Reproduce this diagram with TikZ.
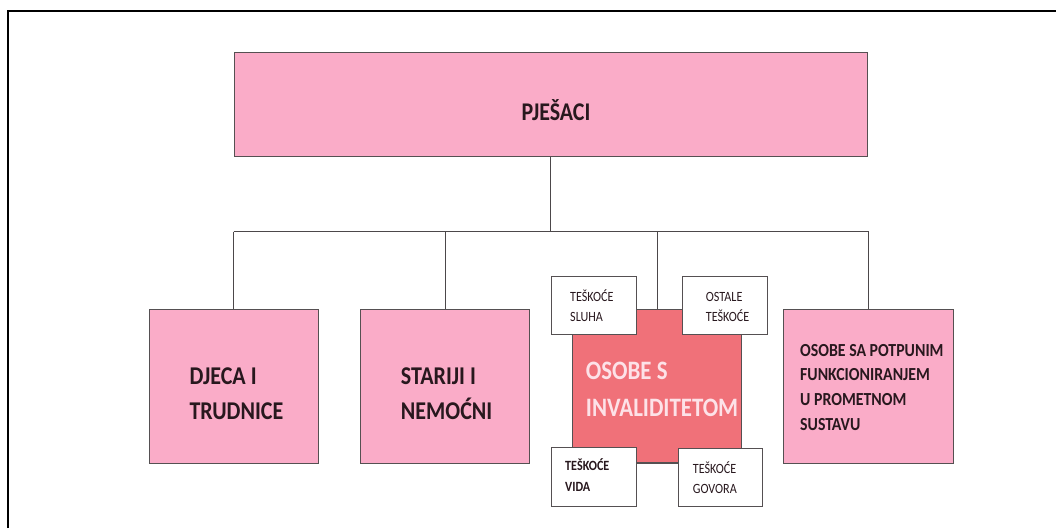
\documentclass[tikz,border=0pt]{standalone}
\usepackage{fontspec}
\setmainfont{Carlito}[FakeStretch=0.86]
\definecolor{pinkfill}{RGB}{250,172,200}
\definecolor{redfill}{RGB}{240,113,121}
\definecolor{boxline}{RGB}{85,80,82}
\definecolor{txt}{RGB}{40,24,30}
\definecolor{lighttxt}{RGB}{253,226,232}
\begin{document}
\begin{tikzpicture}[x=1pt,y=-1pt,
  box/.style={draw=boxline, line width=1.1pt, fill=pinkfill, inner sep=0pt, anchor=north west},
  redbox/.style={box, fill=redfill},
  smallbox/.style={box, fill=white},
  conn/.style={draw=boxline!90!black, line width=0.9pt},
  lbl/.style={anchor=base west, align=left, inner sep=0pt, text=txt}
]
\useasboundingbox (0,0) rectangle (1056,528);
% frame
\draw[line width=2pt, black] (8,528) -- (8,11) -- (1056,11);

% top box
\node[box, minimum width=633.5pt, minimum height=103.5pt] (pj) at (233.5,52.3) {};
\coordinate (busy) at (0,231.7);

% level boxes
\node[box, minimum width=169.2pt, minimum height=153.7pt] (dj) at (148.5,309) {};
\node[box, minimum width=169pt, minimum height=153.7pt] (st) at (360.3,309) {};
\node[redbox, minimum width=168.7pt, minimum height=153.2pt] (inv) at (572.3,309.2) {};
\node[box, minimum width=169.4pt, minimum height=153.7pt] (sa) at (783.3,309) {};

% connectors
\draw[conn] (pj.south) -- (pj.south |- busy);
\draw[conn] (dj.north |- busy) -- (sa.north |- busy);
\draw[conn] (dj.north |- busy) -- (dj.north);
\draw[conn] (st.north |- busy) -- (st.north);
\draw[conn] (inv.north |- busy) -- (inv.north);
\draw[conn] (sa.north |- busy) -- (sa.north);

% small boxes
\node[smallbox, minimum width=84.7pt, minimum height=58pt] (sluh) at (551,276) {};
\node[smallbox, minimum width=85.6pt, minimum height=58pt] (ost) at (681.7,276) {};
\node[smallbox, minimum width=84.7pt, minimum height=59.3pt] (vid) at (551,446.7) {};
\node[smallbox, minimum width=84.6pt, minimum height=58.3pt] (gov) at (677.7,447.7) {};

% texts (base = baseline of the last line)
\node[lbl, anchor=base, font=\fontsize{25.5}{30}\selectfont\bfseries] (tpj) at (556,120.2) {PJEŠACI};
\node[lbl, font=\fontsize{25.6}{35}\selectfont\bfseries] (tdj) at (189.3,419.3) {DJECA I\\TRUDNICE};
\node[lbl, font=\fontsize{25.6}{35}\selectfont\bfseries] (tst) at (400.7,419.3) {STARIJI I\\NEMOĆNI};
\node[lbl, text=lighttxt, font=\fontsize{26.6}{37}\selectfont\bfseries] (tinv) at (585.7,416) {OSOBE S\\INVALIDITETOM};
\node[lbl, font=\fontsize{18.4}{24.9}\selectfont\bfseries] (tsa) at (800,430.7) {OSOBE SA POTPUNIM\\FUNKCIONIRANJEM\\U PROMETNOM\\SUSTAVU};
\node[lbl, font=\fontsize{14.1}{20.7}\selectfont] (tsluh) at (570,321.7) {TEŠKOĆE\\SLUHA};
\node[lbl, font=\fontsize{14.1}{20.7}\selectfont] (tost) at (705.7,321.7) {OSTALE\\TEŠKOĆE};
\node[lbl, font=\fontsize{14.1}{21}\selectfont\bfseries] (tvid) at (565,491.7) {TEŠKOĆE\\VIDA};
\node[lbl, font=\fontsize{14.1}{20}\selectfont] (tgov) at (692.7,493.3) {TEŠKOĆE\\GOVORA};
\end{tikzpicture}
\end{document}
